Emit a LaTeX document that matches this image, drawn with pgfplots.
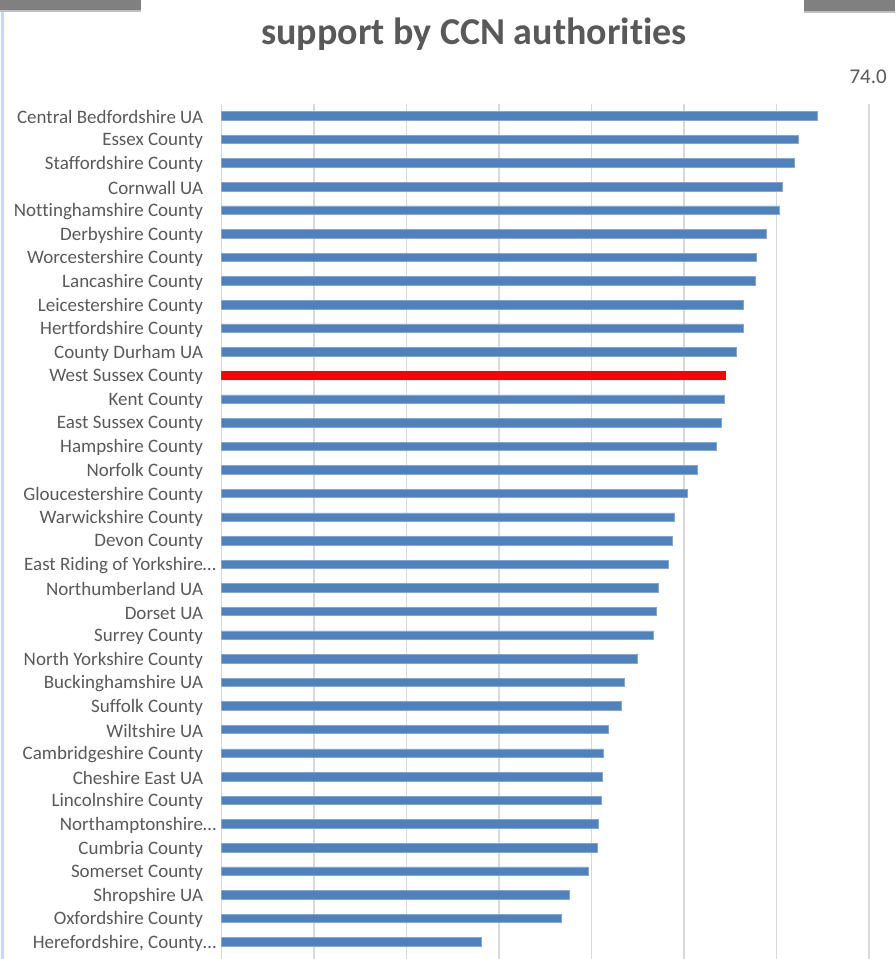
\documentclass[border=0pt]{standalone}
\usepackage{fontspec}
\setmainfont{Carlito}[Ligatures=NoCommon]
\usepackage{pgfplots}
\usepackage{pgfplotstable}
\pgfplotsset{compat=1.18}

\definecolor{barblue}{HTML}{4F81BD}
\definecolor{labelgray}{HTML}{595959}
\definecolor{gridgray}{HTML}{D9D9D9}
\definecolor{edgeblue}{HTML}{C6D9F1}

% y = position from the bottom, x = value
\pgfplotstableread{
y x
0 28.04
1 36.69
2 37.59
3 39.64
4 40.62
5 40.69
6 41.05
7 41.12
8 41.23
9 41.84
10 43.18
11 43.50
12 44.91
13 46.71
14 46.97
15 47.18
16 48.33
17 48.73
18 48.98
19 50.38
20 51.47
21 53.52
22 54.00
23 54.39
25 55.62
26 56.38
27 56.44
28 57.74
29 57.82
30 58.86
31 60.34
32 60.66
33 61.96
34 62.33
35 64.38
}\bluedata

\pgfplotstableread{
y x
24 54.46
}\reddata

\begin{document}
\begin{tikzpicture}[x=1pt,y=1pt]
\useasboundingbox (0,0) rectangle (895,959);

% slide decoration
\fill[edgeblue] (1,0) rectangle (4,959);
\fill[black!50] (0,959) rectangle (141,949);
\fill[black!25] (0,949) rectangle (141,947);
\fill[black!50] (804,959) rectangle (895,948);
\fill[black!25] (804,948) rectangle (895,946);

% title (first line cut off by the crop)
\node[anchor=base, text=labelgray, font=\bfseries\fontsize{38}{40}\selectfont, inner sep=0pt]
  at (474,914) {support by CCN authorities};
\node[anchor=base east, text=labelgray, font=\fontsize{21}{21}\selectfont, inner sep=0pt]
  at (887,875) {74.0};

\begin{axis}[
    at={(221.5pt,0pt)}, anchor=south west,
    scale only axis,
    width=647.5pt, height=855pt,
    xmin=0, xmax=70,
    ymin=-0.72, ymax=35.5,
    xtick={0,10,...,70},
    xticklabels={},
    xmajorgrids,
    grid style={gridgray, line width=1.5pt},
    ytick={0,...,35},
    yticklabels={
      Herefordshire{,} County\rlap{…},
      Oxfordshire County,
      Shropshire UA,
      Somerset County,
      Cumbria County,
      Northamptonshire\rlap{…},
      Lincolnshire County,
      Cheshire East UA,
      Cambridgeshire County,
      Wiltshire UA,
      Suffolk County,
      Buckinghamshire UA,
      North Yorkshire County,
      Surrey County,
      Dorset UA,
      Northumberland UA,
      East Riding of Yorkshire\rlap{…},
      Devon County,
      Warwickshire County,
      Gloucestershire County,
      Norfolk County,
      Hampshire County,
      East Sussex County,
      Kent County,
      West Sussex County,
      County Durham UA,
      Hertfordshire County,
      Leicestershire County,
      Lancashire County,
      Worcestershire County,
      Derbyshire County,
      Nottinghamshire County,
      Cornwall UA,
      Staffordshire County,
      Essex County,
      Central Bedfordshire UA},
    yticklabel style={anchor=east, inner sep=0pt, xshift=-14pt, yshift=-1.5pt,
      text=labelgray, font=\fontsize{19}{19}\selectfont},
    tick style={draw=none},
    axis line style={draw=none},
    xbar, bar width=8.5pt, bar shift=0pt,
]
\addplot[fill=barblue, draw=barblue!70!white, line width=0.6pt] table[x=x, y=y] {\bluedata};
\addplot[fill=red, draw=red, line width=0.6pt] table[x=x, y=y] {\reddata};
\end{axis}
\end{tikzpicture}
\end{document}
